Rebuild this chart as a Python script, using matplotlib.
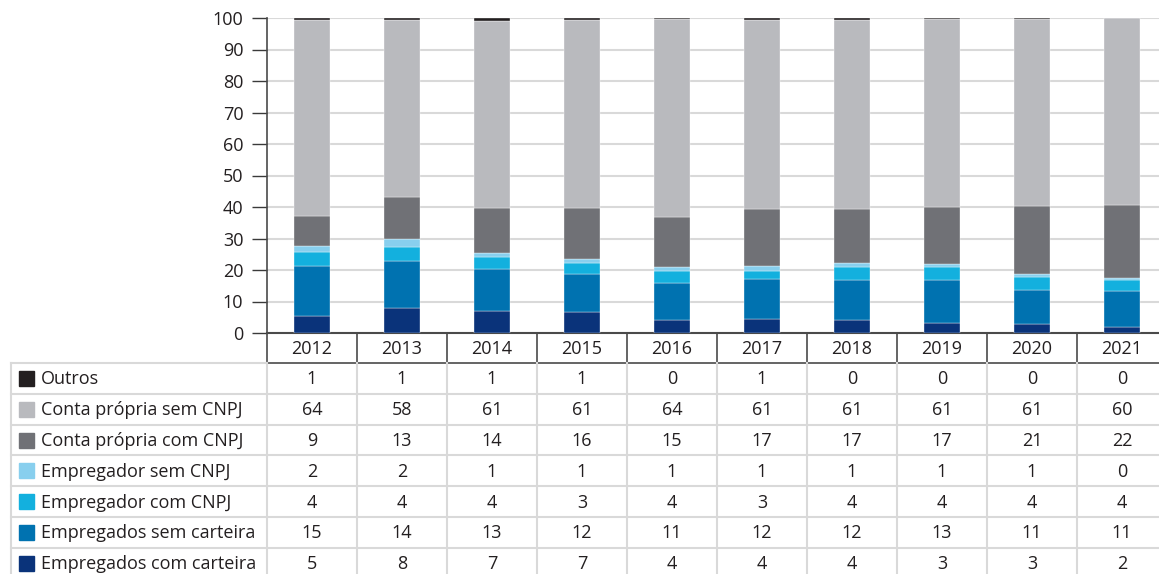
import matplotlib
matplotlib.use("Agg")
import matplotlib.pyplot as plt
import numpy as np

plt.rcParams['font.family'] = ['Open Sans', 'DejaVu Sans']

years = ['2012', '2013', '2014', '2015', '2016', '2017', '2018', '2019', '2020', '2021']

# bar heights
com_carteira = [5.4, 8.0, 7.1, 6.7, 4.2, 4.6, 4.0, 3.3, 2.9, 2.0]
sem_carteira = [15.8, 14.9, 13.3, 12.1, 11.6, 12.5, 12.9, 13.6, 10.8, 11.3]
empregador_com = [4.5, 4.5, 3.7, 3.4, 3.8, 2.6, 4.1, 4.1, 4.1, 3.6]
empregador_sem = [1.9, 2.3, 1.2, 1.3, 1.4, 1.5, 1.1, 1.0, 0.8, 0.7]
conta_com = [9.4, 13.4, 14.3, 16.3, 15.7, 18.1, 17.2, 18.0, 21.8, 23.1]
conta_sem = [62.5, 56.2, 59.3, 59.5, 62.9, 60.0, 60.2, 59.6, 59.2, 59.3]
outros = [0.5, 0.7, 1.1, 0.7, 0.4, 0.7, 0.5, 0.4, 0.4, 0.0]

# table values (rounded, as printed)
tab_outros = [1, 1, 1, 1, 0, 1, 0, 0, 0, 0]
tab_conta_sem = [64, 58, 61, 61, 64, 61, 61, 61, 61, 60]
tab_conta_com = [9, 13, 14, 16, 15, 17, 17, 17, 21, 22]
tab_empregador_sem = [2, 2, 1, 1, 1, 1, 1, 1, 1, 0]
tab_empregador_com = [4, 4, 4, 3, 4, 3, 4, 4, 4, 4]
tab_sem_carteira = [15, 14, 13, 12, 11, 12, 12, 13, 11, 11]
tab_com_carteira = [5, 8, 7, 7, 4, 4, 4, 3, 3, 2]

labels = ['Outros', 'Conta própria sem CNPJ', 'Conta própria com CNPJ',
          'Empregador sem CNPJ', 'Empregador com CNPJ',
          'Empregados sem carteira', 'Empregados com carteira']
colors = ['#231f20', '#b9babe', '#707176', '#88cfee', '#13b0de', '#0072b0', '#0a337a']

bar_series = [outros, conta_sem, conta_com, empregador_sem, empregador_com,
              sem_carteira, com_carteira]
tab_series = [tab_outros, tab_conta_sem, tab_conta_com, tab_empregador_sem,
              tab_empregador_com, tab_sem_carteira, tab_com_carteira]

FS = 13
W, H = 1159, 574
fig = plt.figure(figsize=(W / 100, H / 100), dpi=100)

ax_left, ax_right, ax_top, ax_bot = 267, 1167, 18, 333
ax = fig.add_axes([ax_left / W, 1 - ax_bot / H, (ax_right - ax_left) / W, (ax_bot - ax_top) / H])

x = np.arange(len(years))
bottom = np.zeros(len(years))
# stack from the bottom: reverse of table order
for vals, c in zip(bar_series[::-1], colors[::-1]):
    ax.bar(x, vals, width=0.4, bottom=bottom, color=c, edgecolor='white', linewidth=0.25, zorder=3)
    bottom += np.array(vals)

ax.set_xlim(-0.5, len(years) - 0.5)
ax.set_ylim(0, 100)
ax.set_yticks(range(0, 101, 10))
ax.set_xticks([])
ax.yaxis.grid(True, color='#d9d9d9', linewidth=1.5, zorder=0)
ax.set_axisbelow(True)
ax.tick_params(axis='y', length=11, width=1, color='#3a3a3a', pad=6,
               labelsize=FS, labelcolor='#231f20')
for s in ['top', 'right']:
    ax.spines[s].set_visible(False)
ax.spines['left'].set_color('#4a4a4a')
ax.spines['bottom'].set_color('#4a4a4a')
ax.spines['left'].set_linewidth(1.2)
ax.spines['bottom'].set_linewidth(1.5)

# table below the axes, in pixel coordinates
tb = fig.add_axes([0, 0, 1, 1], zorder=-1)
tb.set_xlim(0, W)
tb.set_ylim(H, 0)
tb.axis('off')
tb.patch.set_alpha(0)

col_w = (ax_right - ax_left) / len(years)
hdr_top, hdr_bot = ax_bot, 363
row_h = 30.8
left_edge = 11
dark = '#4a4a4a'
light = '#d9d9d9'

# header row
tb.plot([ax_left, W], [hdr_bot, hdr_bot], color=dark, lw=1.2)
for i in range(len(years) + 1):
    xx = ax_left + i * col_w
    tb.plot([xx, xx], [hdr_top, hdr_bot], color=dark, lw=1.2)
for i, yr in enumerate(years):
    tb.text(ax_left + (i + 0.5) * col_w, (hdr_top + hdr_bot) / 2 + 1, yr,
            ha='center', va='center', fontsize=FS, color='#231f20')

# data rows
n = len(labels)
for r in range(n + 1):
    yy = hdr_bot + r * row_h
    if r == 0:
        tb.plot([left_edge, ax_left], [yy, yy], color=light, lw=1.5)
    else:
        tb.plot([left_edge, W], [yy, yy], color=light, lw=1.5)
ybot = hdr_bot + n * row_h
tb.plot([left_edge, left_edge], [hdr_bot, ybot], color=light, lw=1.5)
for i in range(len(years) + 1):
    xx = ax_left + i * col_w
    tb.plot([xx, xx], [hdr_bot, ybot], color=light, lw=1.5)

for r, (lab, c, vals) in enumerate(zip(labels, colors, tab_series)):
    yc = hdr_bot + (r + 0.5) * row_h
    tb.add_patch(plt.Rectangle((19, yc - 7.5), 15, 15, color=c))
    tb.text(41, yc + 1, lab, ha='left', va='center', fontsize=FS, color='#231f20')
    for i, v in enumerate(vals):
        tb.text(ax_left + (i + 0.5) * col_w, yc + 1, str(v), ha='center', va='center',
                fontsize=FS, color='#231f20')

fig.savefig('out.png', dpi=100)
